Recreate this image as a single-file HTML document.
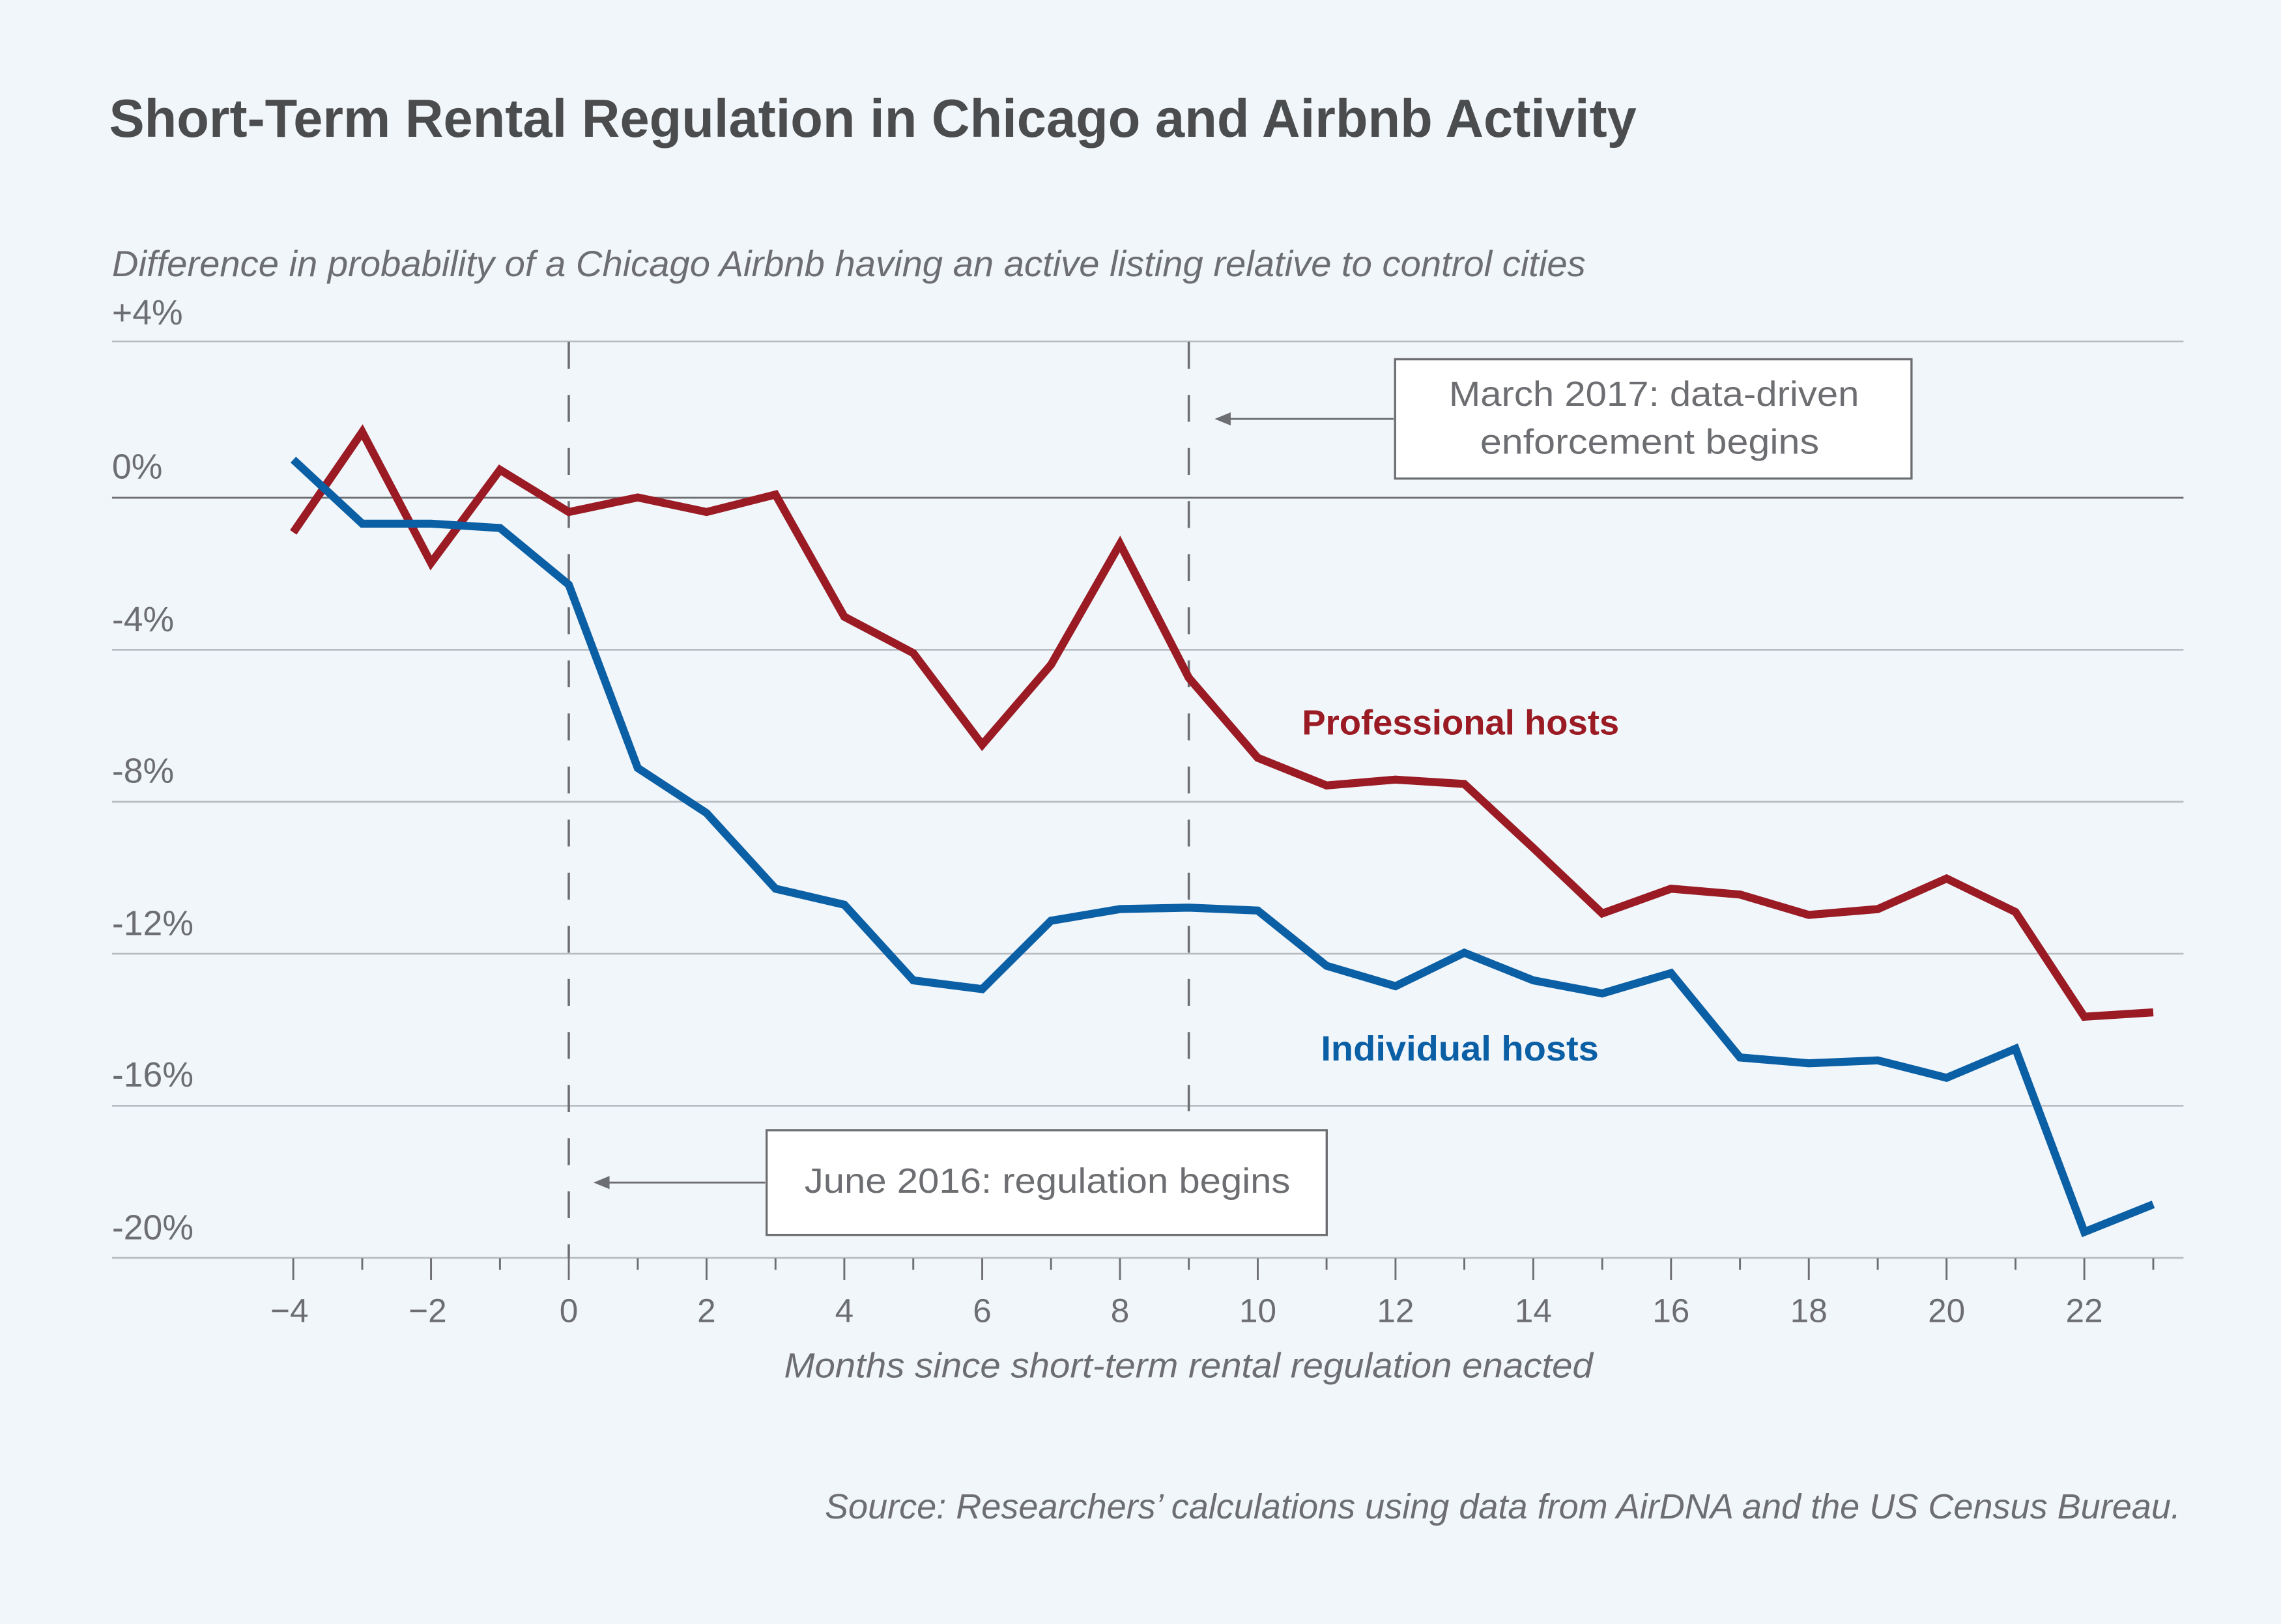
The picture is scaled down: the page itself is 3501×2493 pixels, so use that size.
<!DOCTYPE html>
<html><head><meta charset="utf-8"><style>
html,body{margin:0;padding:0;background:#f1f6fa;}
svg{display:block;}
text{font-family:"Liberation Sans",sans-serif;}
</style></head><body>
<svg width="3501" height="2493" viewBox="0 0 1568 1116.5" preserveAspectRatio="none" xmlns="http://www.w3.org/2000/svg">
<rect x="0" y="0" width="1568" height="1117" fill="#f1f6fa"/>
<text x="75" y="94" font-size="37" font-weight="bold" fill="#4b4c4e" textLength="1050" lengthAdjust="spacingAndGlyphs">Short-Term Rental Regulation in Chicago and Airbnb Activity</text>
<text x="77" y="190" font-size="25" font-style="italic" fill="#6d6e71" textLength="1013" lengthAdjust="spacingAndGlyphs">Difference in probability of a Chicago Airbnb having an active listing relative to control cities</text>
<g stroke="#b7bbc0" stroke-width="1.2">
<line x1="77" x2="1501" y1="234.7" y2="234.7"/>
<line x1="77" x2="1501" y1="446.7" y2="446.7"/>
<line x1="77" x2="1501" y1="551.2" y2="551.2"/>
<line x1="77" x2="1501" y1="655.7" y2="655.7"/>
<line x1="77" x2="1501" y1="760.2" y2="760.2"/>
<line x1="77" x2="1501" y1="864.8" y2="864.8"/>
</g>
<line x1="77" x2="1501" y1="342.2" y2="342.2" stroke="#6d6e71" stroke-width="1.3"/>
<g font-size="24" fill="#6d6e71">
<text x="77" y="223">+4%</text>
<text x="77" y="329">0%</text>
<text x="77" y="434">-4%</text>
<text x="77" y="538">-8%</text>
<text x="77" y="643">-12%</text>
<text x="77" y="747">-16%</text>
<text x="77" y="852">-20%</text>
</g>
<g stroke="#6d6e71" stroke-width="1.6" stroke-dasharray="18.5,18">
<line x1="391" x2="391" y1="235" y2="865"/>
<line x1="817.2" x2="817.2" y1="235" y2="764"/>
</g>
<g stroke="#6d6e71" stroke-width="1.3">
<line x1="201.6" x2="201.6" y1="865" y2="880"/><line x1="249" x2="249" y1="865" y2="873"/>
<line x1="296.3" x2="296.3" y1="865" y2="880"/><line x1="343.7" x2="343.7" y1="865" y2="873"/>
<line x1="391" x2="391" y1="865" y2="880"/><line x1="438.4" x2="438.4" y1="865" y2="873"/>
<line x1="485.7" x2="485.7" y1="865" y2="880"/><line x1="533.1" x2="533.1" y1="865" y2="873"/>
<line x1="580.4" x2="580.4" y1="865" y2="880"/><line x1="627.8" x2="627.8" y1="865" y2="873"/>
<line x1="675.2" x2="675.2" y1="865" y2="880"/><line x1="722.5" x2="722.5" y1="865" y2="873"/>
<line x1="769.9" x2="769.9" y1="865" y2="880"/><line x1="817.2" x2="817.2" y1="865" y2="873"/>
<line x1="864.6" x2="864.6" y1="865" y2="880"/><line x1="911.9" x2="911.9" y1="865" y2="873"/>
<line x1="959.3" x2="959.3" y1="865" y2="880"/><line x1="1006.6" x2="1006.6" y1="865" y2="873"/>
<line x1="1054" x2="1054" y1="865" y2="880"/><line x1="1101.4" x2="1101.4" y1="865" y2="873"/>
<line x1="1148.7" x2="1148.7" y1="865" y2="880"/><line x1="1196.1" x2="1196.1" y1="865" y2="873"/>
<line x1="1243.4" x2="1243.4" y1="865" y2="880"/><line x1="1290.8" x2="1290.8" y1="865" y2="873"/>
<line x1="1338.1" x2="1338.1" y1="865" y2="880"/><line x1="1385.5" x2="1385.5" y1="865" y2="873"/>
<line x1="1432.8" x2="1432.8" y1="865" y2="880"/><line x1="1480.2" x2="1480.2" y1="865" y2="873"/>
</g>
<g font-size="23" fill="#6d6e71" text-anchor="middle">
<text x="199" y="909">−4</text><text x="294" y="909">−2</text><text x="391" y="909">0</text>
<text x="485.7" y="909">2</text><text x="580.4" y="909">4</text><text x="675.2" y="909">6</text>
<text x="769.9" y="909">8</text><text x="864.6" y="909">10</text><text x="959.3" y="909">12</text>
<text x="1054" y="909">14</text><text x="1148.7" y="909">16</text><text x="1243.4" y="909">18</text>
<text x="1338.1" y="909">20</text><text x="1432.8" y="909">22</text>
</g>
<text x="817" y="947" font-size="24" font-style="italic" fill="#6d6e71" text-anchor="middle" textLength="556" lengthAdjust="spacingAndGlyphs">Months since short-term rental regulation enacted</text>
<text x="1499" y="1044" font-size="24" font-style="italic" fill="#6d6e71" text-anchor="end" textLength="932" lengthAdjust="spacingAndGlyphs">Source: Researchers’ calculations using data from AirDNA and the US Census Bureau.</text>
<polyline fill="none" stroke="#9a1b24" stroke-width="5.5" stroke-linejoin="miter" points="201.6,366 249,297 296.3,387 343.7,323 391,352 438.4,342 485.7,352 533.1,340 580.4,424 627.8,449 675.2,512 722.5,457 769.9,374 817.2,466 864.6,521 911.9,540 959.3,536 1006.6,539 1054,583 1101.4,628 1148.7,611 1196.1,615 1243.4,629 1290.8,625 1338.1,604 1385.5,627 1432.8,699 1480.2,696"/>
<polyline fill="none" stroke="#0b5fa5" stroke-width="5.5" stroke-linejoin="miter" points="201.6,316 249,360 296.3,360 343.7,363 391,402 438.4,528 485.7,559 533.1,611 580.4,622 627.8,674 675.2,680 722.5,633 769.9,625 817.2,624 864.6,626 911.9,664 959.3,678 1006.6,655 1054,674 1101.4,683 1148.7,669 1196.1,727 1243.4,731 1290.8,729 1338.1,741 1385.5,721 1432.8,847 1480.2,828"/>
<text x="895" y="505" font-size="24" font-weight="bold" fill="#9a1b24" textLength="218" lengthAdjust="spacingAndGlyphs">Professional hosts</text>
<text x="908" y="729" font-size="24" font-weight="bold" fill="#0b5fa5" textLength="191" lengthAdjust="spacingAndGlyphs">Individual hosts</text>
<rect x="959" y="247" width="355" height="82" fill="#fff" stroke="#6d6e71" stroke-width="1.5"/>
<text x="1137" y="279" font-size="24" fill="#6d6e71" text-anchor="middle" textLength="282" lengthAdjust="spacingAndGlyphs">March 2017: data-driven</text>
<text x="1134" y="312" font-size="24" fill="#6d6e71" text-anchor="middle" textLength="233" lengthAdjust="spacingAndGlyphs">enforcement begins</text>
<line x1="958" y1="288" x2="842" y2="288" stroke="#6d6e71" stroke-width="1.3"/>
<polygon points="835,288 846,283.5 846,292.5" fill="#6d6e71"/>
<rect x="527" y="777" width="385" height="72" fill="#fff" stroke="#6d6e71" stroke-width="1.5"/>
<text x="720" y="820" font-size="24" fill="#6d6e71" text-anchor="middle" textLength="334" lengthAdjust="spacingAndGlyphs">June 2016: regulation begins</text>
<line x1="526" y1="813" x2="415" y2="813" stroke="#6d6e71" stroke-width="1.3"/>
<polygon points="408,813 419,808.5 419,817.5" fill="#6d6e71"/>
</svg>
</body></html>
